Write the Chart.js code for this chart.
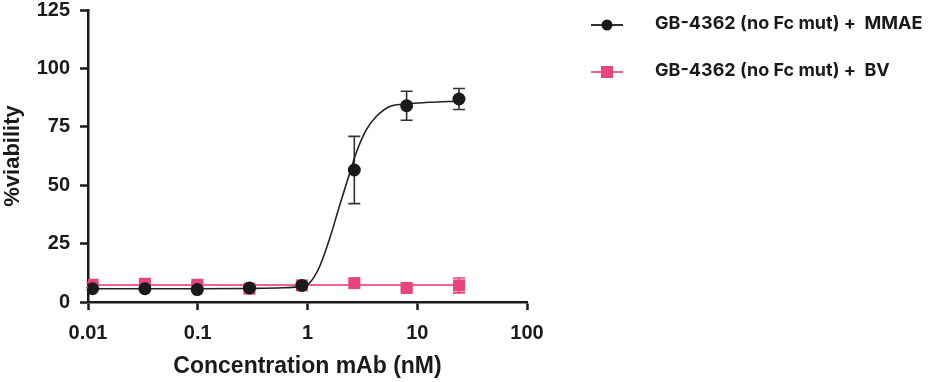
<!DOCTYPE html>
<html>
<head>
<meta charset="utf-8">
<script src="https://cdn.jsdelivr.net/npm/chart.js@4.4.1/dist/chart.umd.min.js"></script>
<style>
  html, body { margin: 0; padding: 0; background: #ffffff; }
  #wrap { position: relative; width: 944px; height: 382px; }
</style>
</head>
<body>
<div id="wrap"><canvas id="c" width="944" height="382"></canvas></div>
<script>
// ---- data ----
const concentrations = [0.011, 0.033, 0.099, 0.296, 0.889, 2.67, 8, 24];
const mmaeViability = [5.7, 5.7, 5.3, 6.0, 7.1, 56.5, 84.0, 86.9];
const mmaeError     = [0.5, 0.5, 0.5, 0.6, 0.6, 14.4, 6.2, 4.5];
const bvViability   = [7.4, 7.8, 7.4, 5.7, 7.1, 8.1, 6.0, 7.1];
const bvError       = [0.8, 0.6, 0.6, 0.8, 0.6, 0.6, 0.7, 3.2];

// fitted curves
const mmaeFitConc = [0.011, 0.1, 0.3, 0.6, 0.88, 1.04, 1.29, 1.58, 1.95, 2.32, 2.77, 3.42, 4.21, 5.56, 7.62, 12.9, 24];
const mmaeFitVal  = [5.7, 5.7, 5.8, 6.1, 6.7, 8.1, 15.2, 26.6, 40.9, 52.3, 63.7, 73.6, 79.3, 83.6, 84.7, 85.5, 86.0];
const bvFitConc = [0.011, 24];
const bvFitVal  = [7.3, 7.3];

const xTicks = [0.01, 0.1, 1, 10, 100];
const xTickLabels = ['0.01', '0.1', '1', '10', '100'];
const yTicks = [0, 25, 50, 75, 100, 125];

const seriesNames = ['GB-4362 (no Fc mut) +  MMAE', 'GB-4362 (no Fc mut) +  BV'];

const BLACK = '#1a1a1a';
const PINK = '#E8457C';
const PINK_LINE = '#F0609A';

const pts = (xs, ys) => xs.map((x, i) => ({ x: x, y: ys[i] }));

const errorBars = {
  id: 'errorBars',
  beforeDatasetsDraw(chart) {
    const ctx = chart.ctx;
    const xs = chart.scales.x, ys = chart.scales.y;
    chart.data.datasets.forEach((ds) => {
      if (!ds.errors) return;
      ctx.save();
      ctx.strokeStyle = ds.errorColor;
      ctx.lineWidth = 1.6;
      ds.data.forEach((p, i) => {
        const e = ds.errors[i];
        const px = xs.getPixelForValue(p.x);
        const yTop = ys.getPixelForValue(p.y + e);
        const yBot = ys.getPixelForValue(p.y - e);
        ctx.beginPath();
        ctx.moveTo(px, yTop); ctx.lineTo(px, yBot);
        ctx.moveTo(px - 6, yTop); ctx.lineTo(px + 6, yTop);
        ctx.moveTo(px - 6, yBot); ctx.lineTo(px + 6, yBot);
        ctx.stroke();
      });
      ctx.restore();
    });
  }
};

const customLegend = {
  id: 'customLegend',
  afterDraw(chart) {
    const ctx = chart.ctx;
    const rows = [
      { y: 25, color: BLACK, line: '#333333', style: 'circle' },
      { y: 72, color: PINK, line: PINK_LINE, style: 'rect' }
    ];
    ctx.save();
    rows.forEach((r, i) => {
      ctx.strokeStyle = r.line;
      ctx.lineWidth = 2;
      ctx.beginPath();
      ctx.moveTo(591, r.y); ctx.lineTo(623, r.y);
      ctx.stroke();
      ctx.fillStyle = r.color;
      if (r.style === 'circle') {
        ctx.beginPath(); ctx.arc(607, r.y, 5.5, 0, Math.PI * 2); ctx.fill();
      } else {
        ctx.fillRect(601, r.y - 6, 12, 12);
      }
      ctx.fillStyle = '#1a1a1a';
      ctx.font = 'bold 18px Inter, "Open Sans", Arial, sans-serif';
      ctx.textBaseline = 'middle';
      ctx.textAlign = 'left';
      ctx.fillText(seriesNames[i], 655, r.y - 1);
    });
    ctx.restore();
  }
};

new Chart(document.getElementById('c'), {
  type: 'line',
  data: {
    datasets: [
      {
        label: seriesNames[0], data: pts(concentrations, mmaeViability),
        showLine: false, pointStyle: 'circle', pointRadius: 6.5,
        pointBackgroundColor: BLACK, pointBorderColor: BLACK, pointBorderWidth: 0,
        errors: mmaeError, errorColor: '#333333', order: 0
      },
      {
        label: 'mmae fit', data: pts(mmaeFitConc, mmaeFitVal),
        borderColor: '#222222', borderWidth: 1.6, pointRadius: 0,
        cubicInterpolationMode: 'monotone', fill: false, order: 1
      },
      {
        label: seriesNames[1], data: pts(concentrations, bvViability),
        showLine: false, pointStyle: 'rect', pointRadius: 8.5,
        pointBackgroundColor: PINK, pointBorderColor: PINK, pointBorderWidth: 0,
        errors: bvError, errorColor: PINK, order: 2
      },
      {
        label: 'bv fit', data: pts(bvFitConc, bvFitVal),
        borderColor: PINK_LINE, borderWidth: 2, pointRadius: 0, fill: false, order: 3
      }
    ]
  },
  options: {
    responsive: false,
    animation: false,
    layout: { padding: { left: 0, right: 417, top: 10, bottom: 0 } },
    plugins: { legend: { display: false }, tooltip: { enabled: false } },
    scales: {
      x: {
        type: 'logarithmic', min: 0.01, max: 100,
        afterBuildTicks: (s) => { s.ticks = xTicks.map(v => ({ value: v })); },
        afterFit: (s) => { s.height = 80; s.paddingLeft = 0; s.paddingRight = 0; },
        ticks: {
          callback: (v) => { const i = xTicks.indexOf(v); return i >= 0 ? xTickLabels[i] : ''; },
          color: '#1a1a1a', font: { family: 'Arial, "Liberation Sans", sans-serif', size: 20, weight: 'bold' },
          padding: 11, maxRotation: 0, autoSkip: false
        },
        grid: { drawOnChartArea: false, drawTicks: true, tickLength: 8, tickWidth: 2.5, tickColor: '#1a1a1a' },
        border: { display: true, color: '#1a1a1a', width: 2.5 },
        title: {
          display: true, text: 'Concentration mAb (nM)', color: '#1a1a1a',
          font: { family: 'Arial, "Liberation Sans", sans-serif', size: 23, weight: 'bold' },
          padding: { top: 0, bottom: 2 }
        }
      },
      y: {
        min: 0, max: 125,
        afterBuildTicks: (s) => { s.ticks = yTicks.map(v => ({ value: v })); },
        afterFit: (s) => { s.width = 88; s.paddingTop = 0; s.paddingBottom = 0; },
        ticks: {
          color: '#1a1a1a', font: { family: 'Arial, "Liberation Sans", sans-serif', size: 20, weight: 'bold' },
          padding: 10
        },
        grid: { drawOnChartArea: false, drawTicks: true, tickLength: 8, tickWidth: 2.5, tickColor: '#1a1a1a' },
        border: { display: true, color: '#1a1a1a', width: 2.5 },
        title: {
          display: true, text: '%viability', color: '#1a1a1a',
          font: { family: 'Arial, "Liberation Sans", sans-serif', size: 22, weight: 'bold' },
          padding: { top: 0, bottom: 0 }
        }
      }
    }
  },
  plugins: [errorBars, customLegend]
});
</script>
</body>
</html>
